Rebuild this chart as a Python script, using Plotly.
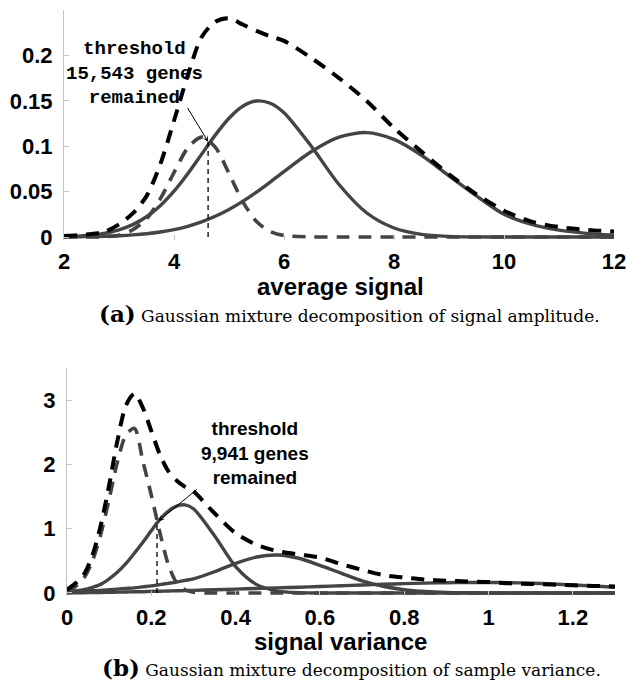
import plotly.graph_objects as go

# ---------------- panel (a): average signal ----------------
signal_x = [2.0, 2.25, 2.5, 2.75, 3.0, 3.25, 3.5, 3.75, 4.0, 4.25, 4.5, 4.75, 5.0, 5.25,
            5.5, 5.75, 6.0, 6.5, 7.0, 7.5, 8.0, 8.5, 9.0, 9.5, 10.0, 10.5, 11.0, 11.5, 12.0]
signal_low = [0.0, 0.0, 0.0001, 0.0004, 0.002, 0.008, 0.02, 0.042, 0.071, 0.098, 0.11, 0.099,
              0.07, 0.039, 0.017, 0.006, 0.0017, 0.0001, 0.0, 0.0, 0.0, 0.0, 0.0, 0.0, 0.0,
              0.0, 0.0, 0.0, 0.0]
signal_mid = [0.0005, 0.001, 0.0022, 0.0043, 0.0079, 0.0136, 0.0223, 0.0345, 0.0505, 0.0697,
              0.091, 0.1122, 0.1308, 0.144, 0.1498, 0.1473, 0.1368, 0.0996, 0.0578, 0.0267,
              0.0099, 0.0029, 0.0007, 0.0001, 0.0, 0.0, 0.0, 0.0, 0.0]
signal_high = [0.0002, 0.0003, 0.0005, 0.0008, 0.0014, 0.0023, 0.0036, 0.0055, 0.0082, 0.0118,
               0.0166, 0.0228, 0.0303, 0.0392, 0.0494, 0.0605, 0.0721, 0.0941, 0.110, 0.115,
               0.1075, 0.090, 0.0674, 0.0452, 0.025, 0.014, 0.0075, 0.004, 0.002]
signal_total = [0.0012, 0.002, 0.0033, 0.006, 0.014, 0.026, 0.045, 0.08, 0.128, 0.178, 0.22,
                0.237, 0.241, 0.234, 0.227, 0.221, 0.216, 0.197, 0.175, 0.15, 0.12, 0.094,
                0.069, 0.047, 0.029, 0.017, 0.011, 0.008, 0.006]
signal_threshold = 4.62
signal_threshold_top = 0.105
signal_arrow_tail = (4.23, 0.1438)
signal_xticks = [2, 4, 6, 8, 10, 12]
signal_yticks = [0, 0.05, 0.1, 0.15, 0.2]
signal_yticklabels = ["0", "0.05", "0.1", "0.15", "0.2"]

# ---------------- panel (b): signal variance ----------------
var_x = [0.0, 0.02, 0.04, 0.06, 0.08, 0.10, 0.12, 0.14, 0.16, 0.18, 0.20, 0.22, 0.24, 0.26,
         0.28, 0.30, 0.35, 0.40, 0.45, 0.50, 0.55, 0.60, 0.65, 0.70, 0.75, 0.80, 0.85, 0.90,
         0.95, 1.00, 1.05, 1.10, 1.15, 1.20, 1.25, 1.30]
var_low = [0.02, 0.10, 0.23, 0.49, 0.91, 1.46, 2.05, 2.46, 2.56, 2.05, 1.52, 0.95, 0.45, 0.16,
           0.05, 0.01, 0.0, 0.0, 0.0, 0.0, 0.0, 0.0, 0.0, 0.0, 0.0, 0.0, 0.0, 0.0, 0.0, 0.0,
           0.0, 0.0, 0.0, 0.0, 0.0, 0.0]
var_mid = [0.015, 0.03, 0.05, 0.087, 0.134, 0.22, 0.325, 0.46, 0.62, 0.79, 0.97, 1.14, 1.27,
           1.35, 1.37, 1.31, 0.89, 0.41, 0.13, 0.03, 0.005, 0.0, 0.0, 0.0, 0.0, 0.0, 0.0, 0.0,
           0.0, 0.0, 0.0, 0.0, 0.0, 0.0, 0.0, 0.0]
var_high = [0.02, 0.025, 0.03, 0.035, 0.04, 0.05, 0.06, 0.07, 0.08, 0.095, 0.11, 0.13, 0.15,
            0.17, 0.195, 0.22, 0.33, 0.46, 0.56, 0.59, 0.54, 0.43, 0.31, 0.19, 0.105, 0.051,
            0.022, 0.008, 0.003, 0.0, 0.0, 0.0, 0.0, 0.0, 0.0, 0.0]
var_wide = [0.0, 0.002, 0.004, 0.006, 0.008, 0.01, 0.013, 0.015, 0.018, 0.02, 0.025, 0.028,
            0.031, 0.034, 0.037, 0.04, 0.05, 0.06, 0.07, 0.08, 0.09, 0.10, 0.112, 0.125, 0.135,
            0.145, 0.153, 0.16, 0.163, 0.163, 0.16, 0.152, 0.14, 0.125, 0.108, 0.09]
var_total = [0.05, 0.15, 0.29, 0.58, 1.05, 1.68, 2.38, 2.92, 3.10, 2.88, 2.52, 2.16, 1.90, 1.75,
             1.65, 1.58, 1.24, 0.93, 0.75, 0.65, 0.60, 0.55, 0.45, 0.36, 0.28, 0.24, 0.21, 0.19,
             0.18, 0.17, 0.15, 0.14, 0.13, 0.12, 0.11, 0.10]
var_threshold = 0.2135
var_threshold_top = 1.08
var_arrow_tail = (0.3115, 1.63)
var_arrow_head = (0.217, 1.12)
var_xticks = [0, 0.2, 0.4, 0.6, 0.8, 1.0, 1.2]
var_xticklabels = ["0", "0.2", "0.4", "0.6", "0.8", "1", "1.2"]
var_yticks = [0, 1, 2, 3]

# ---------------- styling ----------------
W, H = 629, 684
GRAY = "#444444"
AXIS = "#c4c4c4"
SANS = "Liberation Sans, Arial, sans-serif"
MONO = "Liberation Mono, Courier New, monospace"
SERIF = "DejaVu Serif, serif"
DASH = "13px,9px"

fig = go.Figure()


def add_panel(xv, comps, total, thr, thr_top, xa, ya):
    for kind, ys in comps:
        if kind == "dash":
            line = dict(color=GRAY, width=3.6, dash=DASH, shape="spline", smoothing=0.8)
        else:
            line = dict(color=GRAY, width=3.4, shape="spline", smoothing=0.8)
        fig.add_trace(go.Scatter(x=xv, y=ys, mode="lines", line=line,
                                 xaxis=xa, yaxis=ya, hoverinfo="skip"))
    fig.add_trace(go.Scatter(x=xv, y=total, mode="lines",
                             line=dict(color="black", width=4, dash=DASH,
                                       shape="spline", smoothing=0.8),
                             xaxis=xa, yaxis=ya, hoverinfo="skip"))
    fig.add_trace(go.Scatter(x=[thr, thr], y=[0, thr_top], mode="lines",
                             line=dict(color="black", width=1.3, dash="5px,4px"),
                             xaxis=xa, yaxis=ya, hoverinfo="skip"))


add_panel(signal_x,
          [("dash", signal_low), ("solid", signal_mid), ("solid", signal_high)],
          signal_total, signal_threshold, signal_threshold_top, "x", "y")
add_panel(var_x,
          [("dash", var_low), ("solid", var_mid), ("solid", var_high), ("solid", var_wide)],
          var_total, var_threshold, var_threshold_top, "x2", "y2")

tickfont = dict(family=SANS, size=22, color="black", weight="bold")
common_x = dict(ticks="inside", ticklen=5, tickcolor=AXIS, showline=False, showgrid=False,
                zeroline=False, tickfont=tickfont, ticklabelstandoff=6)
common_y = dict(ticks="inside", ticklen=5, tickcolor=AXIS, showline=True, linecolor=AXIS,
                linewidth=1, showgrid=False, zeroline=False, tickfont=tickfont,
                ticklabelstandoff=6)

fig.update_layout(
    width=W, height=H, margin=dict(l=0, r=0, t=0, b=0, autoexpand=False),
    paper_bgcolor="white", plot_bgcolor="white", showlegend=False,
    xaxis=dict(domain=[64 / W, 614 / W], range=[2, 12], tickvals=signal_xticks,
               anchor="y", **common_x),
    yaxis=dict(domain=[1 - 240 / H, 1 - 10 / H], range=[-0.0033, 0.25],
               tickvals=signal_yticks, ticktext=signal_yticklabels, anchor="x", **common_y),
    xaxis2=dict(domain=[67 / W, 615 / W], range=[0, 1.3], tickvals=var_xticks,
                ticktext=var_xticklabels, anchor="y2", **common_x),
    yaxis2=dict(domain=[1 - 596 / H, 1 - 368 / H], range=[-0.047, 3.5],
                tickvals=var_yticks, anchor="x2", **common_y),
)

annotations = [
    # axis titles
    dict(text="average signal", x=340 / W, y=1 - 286 / H, xref="paper", yref="paper",
         xanchor="center", yanchor="middle", showarrow=False,
         font=dict(family=SANS, size=24, color="black", weight="bold")),
    dict(text="signal variance", x=340 / W, y=1 - 641 / H, xref="paper", yref="paper",
         xanchor="center", yanchor="middle", showarrow=False,
         font=dict(family=SANS, size=24, color="black", weight="bold")),
    # captions
    dict(text="<b><span style='font-size:23px'>(a)</span></b> Gaussian mixture decomposition of signal amplitude.",
         x=97 / W, y=1 - 314 / H, xref="paper", yref="paper", xanchor="left",
         yanchor="middle", showarrow=False, font=dict(family=SERIF, size=17, color="black")),
    dict(text="<b><span style='font-size:23px'>(b)</span></b> Gaussian mixture decomposition of sample variance.",
         x=100 / W, y=1 - 667 / H, xref="paper", yref="paper", xanchor="left",
         yanchor="middle", showarrow=False, font=dict(family=SERIF, size=17, color="black")),
    # threshold notes
    dict(text="threshold<br>15,543 genes<br>remained", x=134 / W, y=1 - 73.5 / H,
         xref="paper", yref="paper", xanchor="center", yanchor="middle", align="center",
         showarrow=False, font=dict(family=MONO, size=19, color="black", weight="bold")),
    dict(text="threshold<br>9,941 genes<br>remained", x=255 / W, y=1 - 453 / H,
         xref="paper", yref="paper", xanchor="center", yanchor="middle", align="center",
         showarrow=False, font=dict(family=SANS, size=19, color="black", weight="bold")),
    # arrows
    dict(text="", x=signal_threshold, y=signal_threshold_top, xref="x", yref="y",
         ax=signal_arrow_tail[0], ay=signal_arrow_tail[1], axref="x", ayref="y",
         showarrow=True, arrowhead=3, arrowsize=1, arrowwidth=1, arrowcolor="black"),
    dict(text="", x=var_arrow_head[0], y=var_arrow_head[1], xref="x2", yref="y2",
         ax=var_arrow_tail[0], ay=var_arrow_tail[1], axref="x2", ayref="y2",
         showarrow=True, arrowhead=3, arrowsize=1, arrowwidth=1, arrowcolor="black"),
]
fig.update_layout(annotations=annotations)

fig.write_html("out.html", config={"displayModeBar": False},
               post_script="document.body.style.margin='0';document.body.style.overflow='hidden';")
